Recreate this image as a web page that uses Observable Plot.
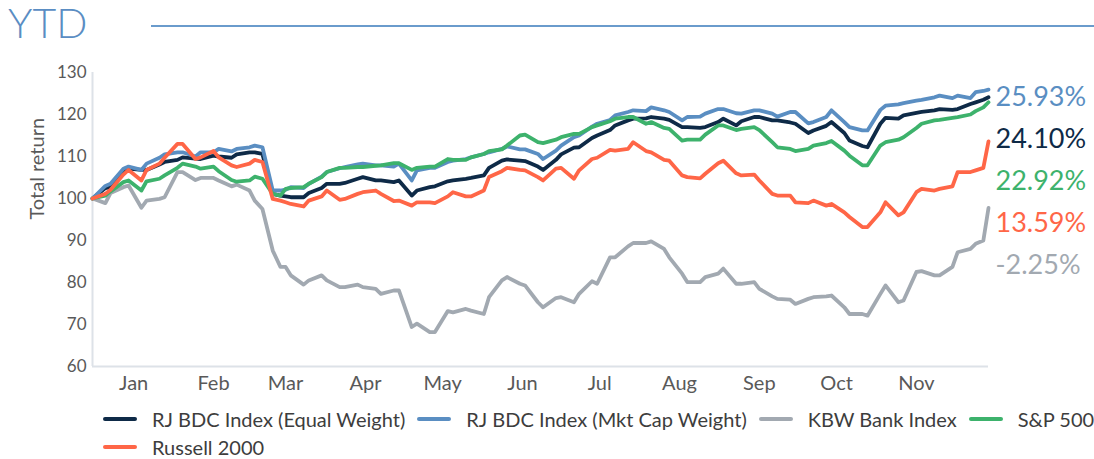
<!DOCTYPE html>
<html><head><meta charset="utf-8">
<script src="https://cdn.jsdelivr.net/npm/d3@7"></script>
<script src="https://cdn.jsdelivr.net/npm/@observablehq/plot@0.6"></script>
<style>
body{margin:0;background:#fff;font-family:Lato,sans-serif;width:1094px;height:459px;position:relative;overflow:hidden}
#title{position:absolute;left:8px;top:1px;font-size:41px;color:#5a8dc3;font-weight:300;line-height:44px}
#rule{position:absolute;left:151px;right:0;top:25px;height:2px;background:#6a9bcc}
#chart{position:absolute;left:0;top:48px}
#legend{position:absolute;left:103px;top:405px}
.row{display:flex;align-items:center;height:28px;column-gap:12px}
.item{display:flex;align-items:center;font-size:20px;color:#3d3d3d;white-space:nowrap}
.sw{width:34px;height:4px;border-radius:2px;margin-right:15px}
</style></head>
<body>
<div id="title">YTD</div>
<div id="rule"></div>
<div id="chart"></div>
<div id="legend"></div>
<script>
const seriesNames = ["RJ BDC Index (Equal Weight)","RJ BDC Index (Mkt Cap Weight)","KBW Bank Index","S&P 500","Russell 2000"];
const seriesColors = ["#0e2a47","#5a8ec2","#a2a9b1","#3db26c","#ff6647"];
const finalLabels = ["24.10%","25.93%","-2.25%","22.92%","13.59%"];
const yTicks = [60,70,80,90,100,110,120,130];
const monthLabels = ["Jan","Feb","Mar","Apr","May","Jun","Jul","Aug","Sep","Oct","Nov"];

const dates = ["2022-12-30","2023-01-04","2023-01-06","2023-01-11","2023-01-13","2023-01-18","2023-01-20","2023-01-25","2023-01-27","2023-02-01",
  "2023-02-03","2023-02-08","2023-02-10","2023-02-15","2023-02-17","2023-02-22","2023-02-24","2023-03-01","2023-03-03","2023-03-06",
  "2023-03-10","2023-03-13","2023-03-15","2023-03-17","2023-03-22","2023-03-24","2023-03-29","2023-03-31","2023-04-05","2023-04-07",
  "2023-04-12","2023-04-14","2023-04-19","2023-04-21","2023-04-26","2023-04-28","2023-05-03","2023-05-05","2023-05-10","2023-05-12",
  "2023-05-17","2023-05-19","2023-05-24","2023-05-26","2023-05-31","2023-06-02","2023-06-07","2023-06-09","2023-06-14","2023-06-16",
  "2023-06-21","2023-06-23","2023-06-28","2023-06-30","2023-07-05","2023-07-07","2023-07-12","2023-07-14","2023-07-19","2023-07-21",
  "2023-07-26","2023-07-28","2023-08-02","2023-08-04","2023-08-09","2023-08-11","2023-08-16","2023-08-18","2023-08-23","2023-08-25",
  "2023-08-30","2023-09-01","2023-09-06","2023-09-08","2023-09-13","2023-09-15","2023-09-20","2023-09-22","2023-09-27","2023-09-29",
  "2023-10-04","2023-10-06","2023-10-11","2023-10-13","2023-10-18","2023-10-20","2023-10-25","2023-10-27","2023-11-01","2023-11-03",
  "2023-11-08","2023-11-10","2023-11-15","2023-11-17","2023-11-22","2023-11-24","2023-11-29","2023-12-01","2023-12-06","2023-12-08",
  "2023-12-11","2023-12-13"];

const equalWeight = [100,102.5,102.7,106.3,107.1,106.8,106.8,108.1,108.7,109.2,
  109.8,109.5,109.4,110.2,110,109.7,110.5,111,111,110.6,
  101.1,100.7,100.5,100.3,100.3,101.3,102.5,103.5,103.5,103.7,
  104.7,105.1,104.3,104.3,103.9,104.3,100.7,101.9,102.7,102.9,
  104.1,104.3,104.7,104.9,105.5,107.3,109,109.3,109,108.9,
  107.6,106.8,109.2,110.5,112.1,112.2,114.4,115,116.3,117.4,
  118.6,119,119.1,119.4,119,118.7,117,117,116.8,117,
  118.2,119,117.4,118.4,119.4,119.4,118.6,118.6,118.1,117.8,
  115.6,116.2,117.3,118.2,115.6,113.8,112.5,112.2,117.8,119.2,
  119,119.8,120.4,120.6,121,121.3,121.1,121.3,122.5,122.9,
  123.5,124.1];
const mktCapWeight = [100,103,103.5,107.1,107.6,106.8,108.3,109.7,110.5,111,
  111,110,111,111,111.8,111.2,111.8,112.2,112.6,112.2,
  101.9,101.9,102.1,102.7,102.5,103.5,105.2,106.3,107.2,107.5,
  108.1,108.3,107.9,107.9,107.6,108.3,104.3,106.7,107.3,107.3,
  108.7,109,109.4,109.8,110.6,111,111.8,112.4,111.7,111.7,
  110.6,109.4,111.4,112.6,114.6,115,117.1,117.8,118.7,119.8,
  120.6,121,120.8,121.7,121,120.6,118.6,119.4,119.5,120.2,
  121.3,121.3,120.3,120.2,121,121,120.2,119.5,120.6,120.6,
  117.9,118.2,119.4,121,118.2,117,116.2,116.2,121.1,122.1,
  122.4,122.7,123.3,123.5,124.1,124.5,123.9,124.5,123.9,125.3,
  125.6,125.93];
const kbwBank = [100,98.9,101.3,102.7,103.1,97.8,99.5,99.9,100.3,106.3,
  106.3,104.4,104.9,104.9,104.3,102.9,103.3,101.9,99.5,97.5,
  87.6,83.7,83.7,81.7,79.5,80.5,81.7,80.5,78.9,78.9,
  79.5,78.9,78.5,77.3,78.1,78.1,69.4,70.2,68.2,68.2,
  73.2,72.9,73.7,73.3,72.5,76.5,80.5,81.3,79.7,79.3,
  75.3,74.1,76.3,76.5,75.3,77.3,80.3,79.7,86,86,
  88.6,89.4,89.4,89.8,88,86,82.1,80.1,80.1,81.3,
  82.1,83.3,79.7,79.7,80.1,78.5,76.7,76.1,75.9,74.9,
  76.1,76.5,76.7,76.9,74.1,72.5,72.5,72.1,77.3,79.3,
  75.3,75.7,82.5,82.7,81.7,81.7,83.7,87.2,88,89.2,
  90,97.75];
const sp500 = [100,100.7,101.7,103.9,104.3,101.9,104.1,104.7,105.5,107.3,
  108.3,107.6,107.1,107.6,106.5,104.4,104,104.3,105.2,104.7,
  101.1,100.7,102.3,102.5,102.7,103.5,105.1,106.3,107.3,107.3,
  107.5,107.5,107.8,107.9,108.4,108.4,106.8,107.3,107.6,107.6,
  109.4,109.2,109.2,109.8,110.6,111.3,111.7,112.6,115,115.2,
  113.4,113.2,114,114.6,115.4,115.4,117,117.4,118.4,119,
  119.4,119.4,117.8,118.2,116.8,116.6,113.8,114,114,115.2,
  117.4,117.4,116.3,116.6,117,116.3,113.4,112.2,111.8,111.3,
  111.8,112.6,113.2,113.7,111.4,110.2,107.9,107.9,112.6,113.4,
  114,114.6,116.8,117.8,118.6,118.7,119.2,119.4,120,120.8,
  121.7,122.92];
const russell2000 = [100,101.1,102.1,105.7,106.8,104.3,106.8,108.3,109.7,113,
  113,109.4,109.8,111.3,109.8,107.9,107.5,108.3,109.2,108.7,
  99.9,99.5,99.1,98.7,98.1,99.5,100.5,101.9,99.7,99.9,
  101.1,101.5,101.9,101.1,99.4,99.5,98.3,99.1,99.1,98.9,
  100.5,101.5,100.5,100.5,101.9,105.1,106.5,107.3,106.8,106.7,
  105.1,104.3,107.1,107.3,104.7,106.7,109.4,109.7,111.6,111.4,
  111.8,113.4,111.3,111,109.2,109,105.5,105.1,104.8,105.9,
  108.4,109,106,105.5,105.7,104.3,101.1,100.7,100.7,99.1,
  98.9,99.5,98.3,98.7,96.7,95.6,93.2,93.2,96.7,99.1,
  96,96.7,101.5,102.3,101.9,102.3,102.9,106.3,106.3,106.7,
  107.3,113.59];

const seriesValues = [equalWeight, mktCapWeight, kbwBank, sp500, russell2000];
const parsed = dates.map(d => new Date(d + "T00:00:00Z"));
const table = seriesNames.flatMap((name, s) => seriesValues[s].map((v, i) => ({series: name, date: parsed[i], value: v})));
const last = parsed.length - 1;

// end labels, stacked in order of final value
const endLabels = seriesNames.map((name, s) => ({series: name, label: finalLabels[s], final: seriesValues[s][last]}))
  .sort((a, b) => b.final - a.final)
  .map((d, i) => ({...d, date: parsed[last], ly: 124 - 10 * i}));

const monthTicks = monthLabels.map((m, i) => new Date(Date.UTC(2023, i, 15)));

const chart = Plot.plot({
  width: 1094, height: 352,
  marginLeft: 92, marginRight: 106, marginTop: 24, marginBottom: 34,
  style: {fontFamily: "Lato, sans-serif", fontSize: "17px", color: "#595959", background: "transparent", overflow: "visible"},
  x: {type: "utc", domain: [parsed[0], parsed[last]]},
  y: {domain: [60, 130]},
  color: {domain: seriesNames, range: seriesColors},
  marks: [
    Plot.ruleX([parsed[0]], {stroke: "#dde2e8", strokeWidth: 2}),
    Plot.ruleY([60], {stroke: "#dde2e8", strokeWidth: 2}),
    Plot.axisY({ticks: yTicks, tickSize: 0, tickPadding: 6, label: null, fontSize: 17}),
    Plot.axisX({ticks: monthTicks, tickSize: 0, tickPadding: 9, label: null, fontSize: 20,
      tickFormat: d => monthLabels[d.getUTCMonth()]}),
    Plot.text(["Total return"], {frameAnchor: "left", rotate: -90, dx: -55, fontSize: 20, fill: "#595959"}),
    Plot.line(table, {x: "date", y: "value", z: "series", stroke: "series", strokeWidth: 3.8, strokeLinejoin: "round", strokeLinecap: "round"}),
    Plot.text(endLabels, {x: "date", y: "ly", text: "label", fill: "series", dx: 7, textAnchor: "start", fontSize: 27})
  ]
});
document.getElementById("chart").appendChild(chart);

// legend: four items per row
const legend = document.getElementById("legend");
const perRow = 4;
for (let r = 0; r * perRow < seriesNames.length; r++) {
  const row = document.createElement("div");
  row.className = "row";
  seriesNames.slice(r * perRow, r * perRow + perRow).forEach((name, k) => {
    const s = r * perRow + k;
    const item = document.createElement("div");
    item.className = "item";
    const sw = document.createElement("span");
    sw.className = "sw";
    sw.style.background = seriesColors[s];
    const t = document.createElement("span");
    t.textContent = name;
    item.appendChild(sw); item.appendChild(t);
    row.appendChild(item);
  });
  legend.appendChild(row);
}
</script>
</body></html>
